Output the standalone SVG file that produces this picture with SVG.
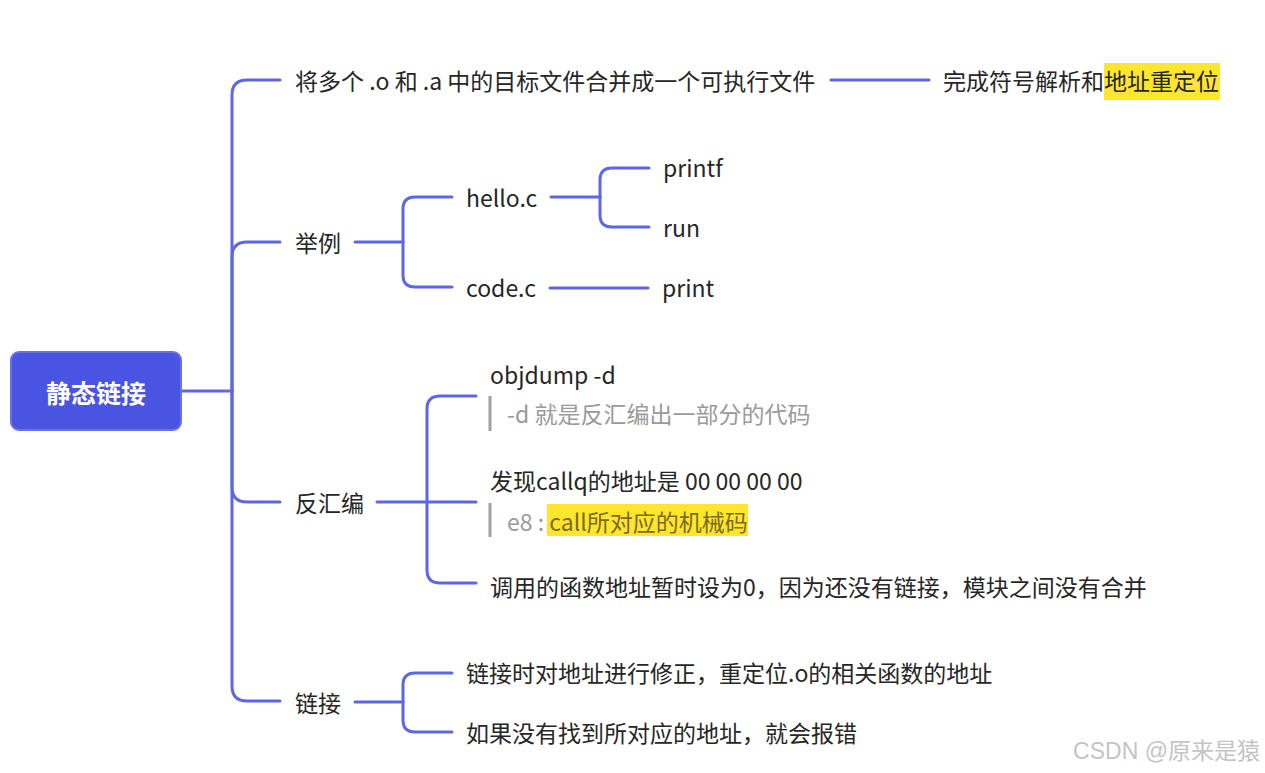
<svg xmlns="http://www.w3.org/2000/svg" width="1265" height="773" viewBox="0 0 1265 773">
<style>
.t{font-family:"Noto Sans CJK SC","Noto Sans",sans-serif;font-size:23px;fill:#262626;dominant-baseline:central}
.n{font-family:"Noto Sans CJK SC","Noto Sans",sans-serif;font-size:23px;fill:#9a9a9a;dominant-baseline:central}
.c path{fill:none;stroke:#5e67e3;stroke-width:3;stroke-linecap:round}
.bar{stroke:#9ea1a6;stroke-width:3}
.hl{fill:#ffe62e}
</style>
<rect width="1265" height="773" fill="#ffffff"/>
<g class="c" id="connectors">
<path d="M181 391 H232"/>
<path d="M232 391 V95 Q232 80 247 80 H280"/>
<path d="M232 391 V257 Q232 242 247 242 H280"/>
<path d="M232 391 V487 Q232 502 247 502 H280"/>
<path d="M232 391 V686 Q232 701 247 701 H280"/>
<path d="M831 80 H929"/>
<path d="M355 242 H403"/>
<path d="M403 242 V209 Q403 197 415 197 H452"/>
<path d="M403 242 V275 Q403 287 415 287 H452"/>
<path d="M551 197 H600"/>
<path d="M600 197 V180 Q600 168 612 168 H649"/>
<path d="M600 197 V215 Q600 227 612 227 H649"/>
<path d="M550 288 H648"/>
<path d="M377 502 H427"/>
<path d="M427 502 V409 Q427 396 440 396 H476"/>
<path d="M427 502 H476"/>
<path d="M427 502 V570 Q427 583 440 583 H476"/>
<path d="M355 702 H403"/>
<path d="M403 702 V685 Q403 673 415 673 H452"/>
<path d="M403 702 V720 Q403 732 415 732 H452"/>
</g>
<g id="root">
<rect x="11" y="352" width="170" height="78" rx="8" fill="#4a54e2" stroke="#6a72ea" stroke-width="2"/>
<text x="96" y="392" text-anchor="middle" font-family="'Noto Sans CJK SC','Noto Sans',sans-serif" font-size="25" font-weight="bold" fill="#ffffff" dominant-baseline="central">静态链接</text>
</g>
<g id="n1"><text class="t" x="295" y="80">将多个 .o 和 .a 中的目标文件合并成一个可执行文件</text></g>
<g id="n1a"><rect class="hl" x="1104" y="63" width="116" height="37"/><text class="t" x="943" y="80">完成符号解析和地址重定位</text></g>
<g id="n2"><text class="t" x="295" y="242">举例</text></g>
<g id="n2a"><text class="t" x="466" y="197">hello.c</text></g>
<g id="n2a1"><text class="t" x="663" y="167">printf</text></g>
<g id="n2a2"><text class="t" x="663" y="227">run</text></g>
<g id="n2b"><text class="t" x="466" y="287">code.c</text></g>
<g id="n2b1"><text class="t" x="662" y="287">print</text></g>
<g id="n3"><text class="t" x="295" y="502">反汇编</text></g>
<g id="n3a"><text class="t" x="490" y="374">objdump -d</text><line class="bar" x1="490" y1="396" x2="490" y2="431"/><text class="n" x="507" y="413">-d 就是反汇编出一部分的代码</text></g>
<g id="n3b"><text class="t" x="490" y="480">发现callq的地址是 00 00 00 00</text><line class="bar" x1="490" y1="503" x2="490" y2="537"/><rect class="hl" x="547" y="504" width="201" height="32"/><text class="n" x="507" y="521">e8 : <tspan fill="#7a6a1a">call所对应的机械码</tspan></text></g>
<g id="n3c"><text class="t" x="490" y="586">调用的函数地址暂时设为0，因为还没有链接，模块之间没有合并</text></g>
<g id="n4"><text class="t" x="295" y="702">链接</text></g>
<g id="n4a"><text class="t" x="466" y="672">链接时对地址进行修正，重定位.o的相关函数的地址</text></g>
<g id="n4b"><text class="t" x="466" y="732">如果没有找到所对应的地址，就会报错</text></g>
<text x="1260" y="751" text-anchor="end" font-family="'Liberation Sans','Noto Sans CJK SC',sans-serif" font-size="23" fill="#c4c4c4" dominant-baseline="central">CSDN @原来是猿</text>
</svg>
